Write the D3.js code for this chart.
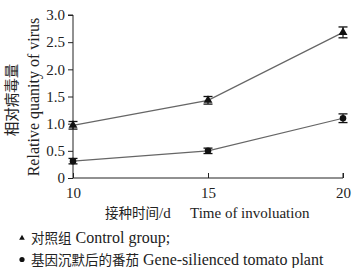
<!DOCTYPE html>
<html><head><meta charset="utf-8">
<script src="https://cdn.jsdelivr.net/npm/d3@7"></script>
<style>body{margin:0;background:#fff}svg{display:block}text{font-family:"Liberation Serif","Noto Sans CJK SC",serif;fill:#222}.cjk{font-family:"Noto Sans CJK SC","Liberation Serif",serif}</style>
</head><body><svg id="c" width="355" height="268"></svg>
<script>
const days = [10, 15, 20];
const controlVals = [0.97, 1.43, 2.68];
const controlErr = [0.07, 0.07, 0.1];
const silencedVals = [0.31, 0.50, 1.10];
const silencedErr = [0.05, 0.05, 0.08];
const yTicks = [0, 0.5, 1.0, 1.5, 2.0, 2.5, 3.0];
const yTickLabels = ["0", "0.5", "1.0", "1.5", "2.0", "2.5", "3.0"];

const svg = d3.select("#c");
const x = d3.scaleLinear().domain([10, 20]).range([73, 343]);
const y = d3.scaleLinear().domain([0, 3]).range([178, 15]);

const yAxis = d3.axisLeft(y).tickValues(yTicks).tickFormat((d,i)=>yTickLabels[i]).tickSize(5).tickPadding(3);
const gy = svg.append("g").attr("transform","translate(73,0)").call(yAxis);
gy.select(".domain").attr("stroke","#222").attr("d","M-5,15H0V178");
gy.selectAll("line").attr("stroke","#222");
gy.selectAll("text").style("font-size","15px").attr("fill","#222");

const xAxis = d3.axisBottom(x).tickValues(days).tickSize(-5).tickPadding(9);
const gx = svg.append("g").attr("transform","translate(0,178)").call(xAxis);
gx.select(".domain").attr("stroke","#222").attr("d","M73,0H343V-5");
gx.selectAll("line").attr("stroke","#222");
gx.selectAll("text").style("font-size","15px").attr("fill","#222");

function series(vals, errs, shape) {
  const pts = days.map((d,i)=>({d, v: vals[i], e: errs[i]}));
  svg.append("path").datum(pts)
    .attr("d", d3.line().x(p=>x(p.d)).y(p=>y(p.v)))
    .attr("fill","none").attr("stroke","#666").attr("stroke-width",1.2);
  const g = svg.append("g");
  pts.forEach(p=>{
    const cx = x(p.d), t = y(p.v+p.e), b = y(p.v-p.e);
    g.append("line").attr("x1",cx).attr("x2",cx).attr("y1",t).attr("y2",b).attr("stroke","#111").attr("stroke-width",1.2);
    g.append("line").attr("x1",cx-4.5).attr("x2",cx+4.5).attr("y1",t).attr("y2",t).attr("stroke","#111").attr("stroke-width",1.3);
    g.append("line").attr("x1",cx-4.5).attr("x2",cx+4.5).attr("y1",b).attr("y2",b).attr("stroke","#111").attr("stroke-width",1.3);
    g.append("path").attr("transform",`translate(${cx},${y(p.v)})`)
      .attr("d", d3.symbol().type(shape).size(34)())
      .attr("fill","#111");
  });
}
series(controlVals, controlErr, d3.symbolTriangle);
series(silencedVals, silencedErr, d3.symbolCircle);

// y axis titles
svg.append("text").attr("class","cjk").attr("transform","translate(17,100) rotate(-90)").attr("text-anchor","middle")
  .style("font-size","14.5px").text("相对病毒量");
svg.append("text").attr("transform","translate(39,97) rotate(-90)").attr("text-anchor","middle")
  .style("font-size","16px").text("Relative quanity of virus");

// x title
const xt = svg.append("text").attr("x",105).attr("y",218);
xt.append("tspan").attr("class","cjk").style("font-size","13.5px").text("接种时间");
xt.append("tspan").style("font-size","15px").text("/d");
xt.append("tspan").attr("x",190).style("font-size","15px").text("Time of involuation");

// legend
svg.append("path").attr("transform","translate(22,238)").attr("d",d3.symbol().type(d3.symbolTriangle).size(14)()).attr("fill","#111");
const l1 = svg.append("text").attr("x",31).attr("y",243);
l1.append("tspan").attr("class","cjk").style("font-size","13.5px").text("对照组");
l1.append("tspan").style("font-size","16px").text(" Control group;");
svg.append("circle").attr("cx",22).attr("cy",259.5).attr("r",2.6).attr("fill","#111");
const l2 = svg.append("text").attr("x",31).attr("y",265);
l2.append("tspan").attr("class","cjk").style("font-size","13.5px").text("基因沉默后的番茄");
l2.append("tspan").style("font-size","16px").text(" Gene-silienced tomato plant");
</script></body></html>
